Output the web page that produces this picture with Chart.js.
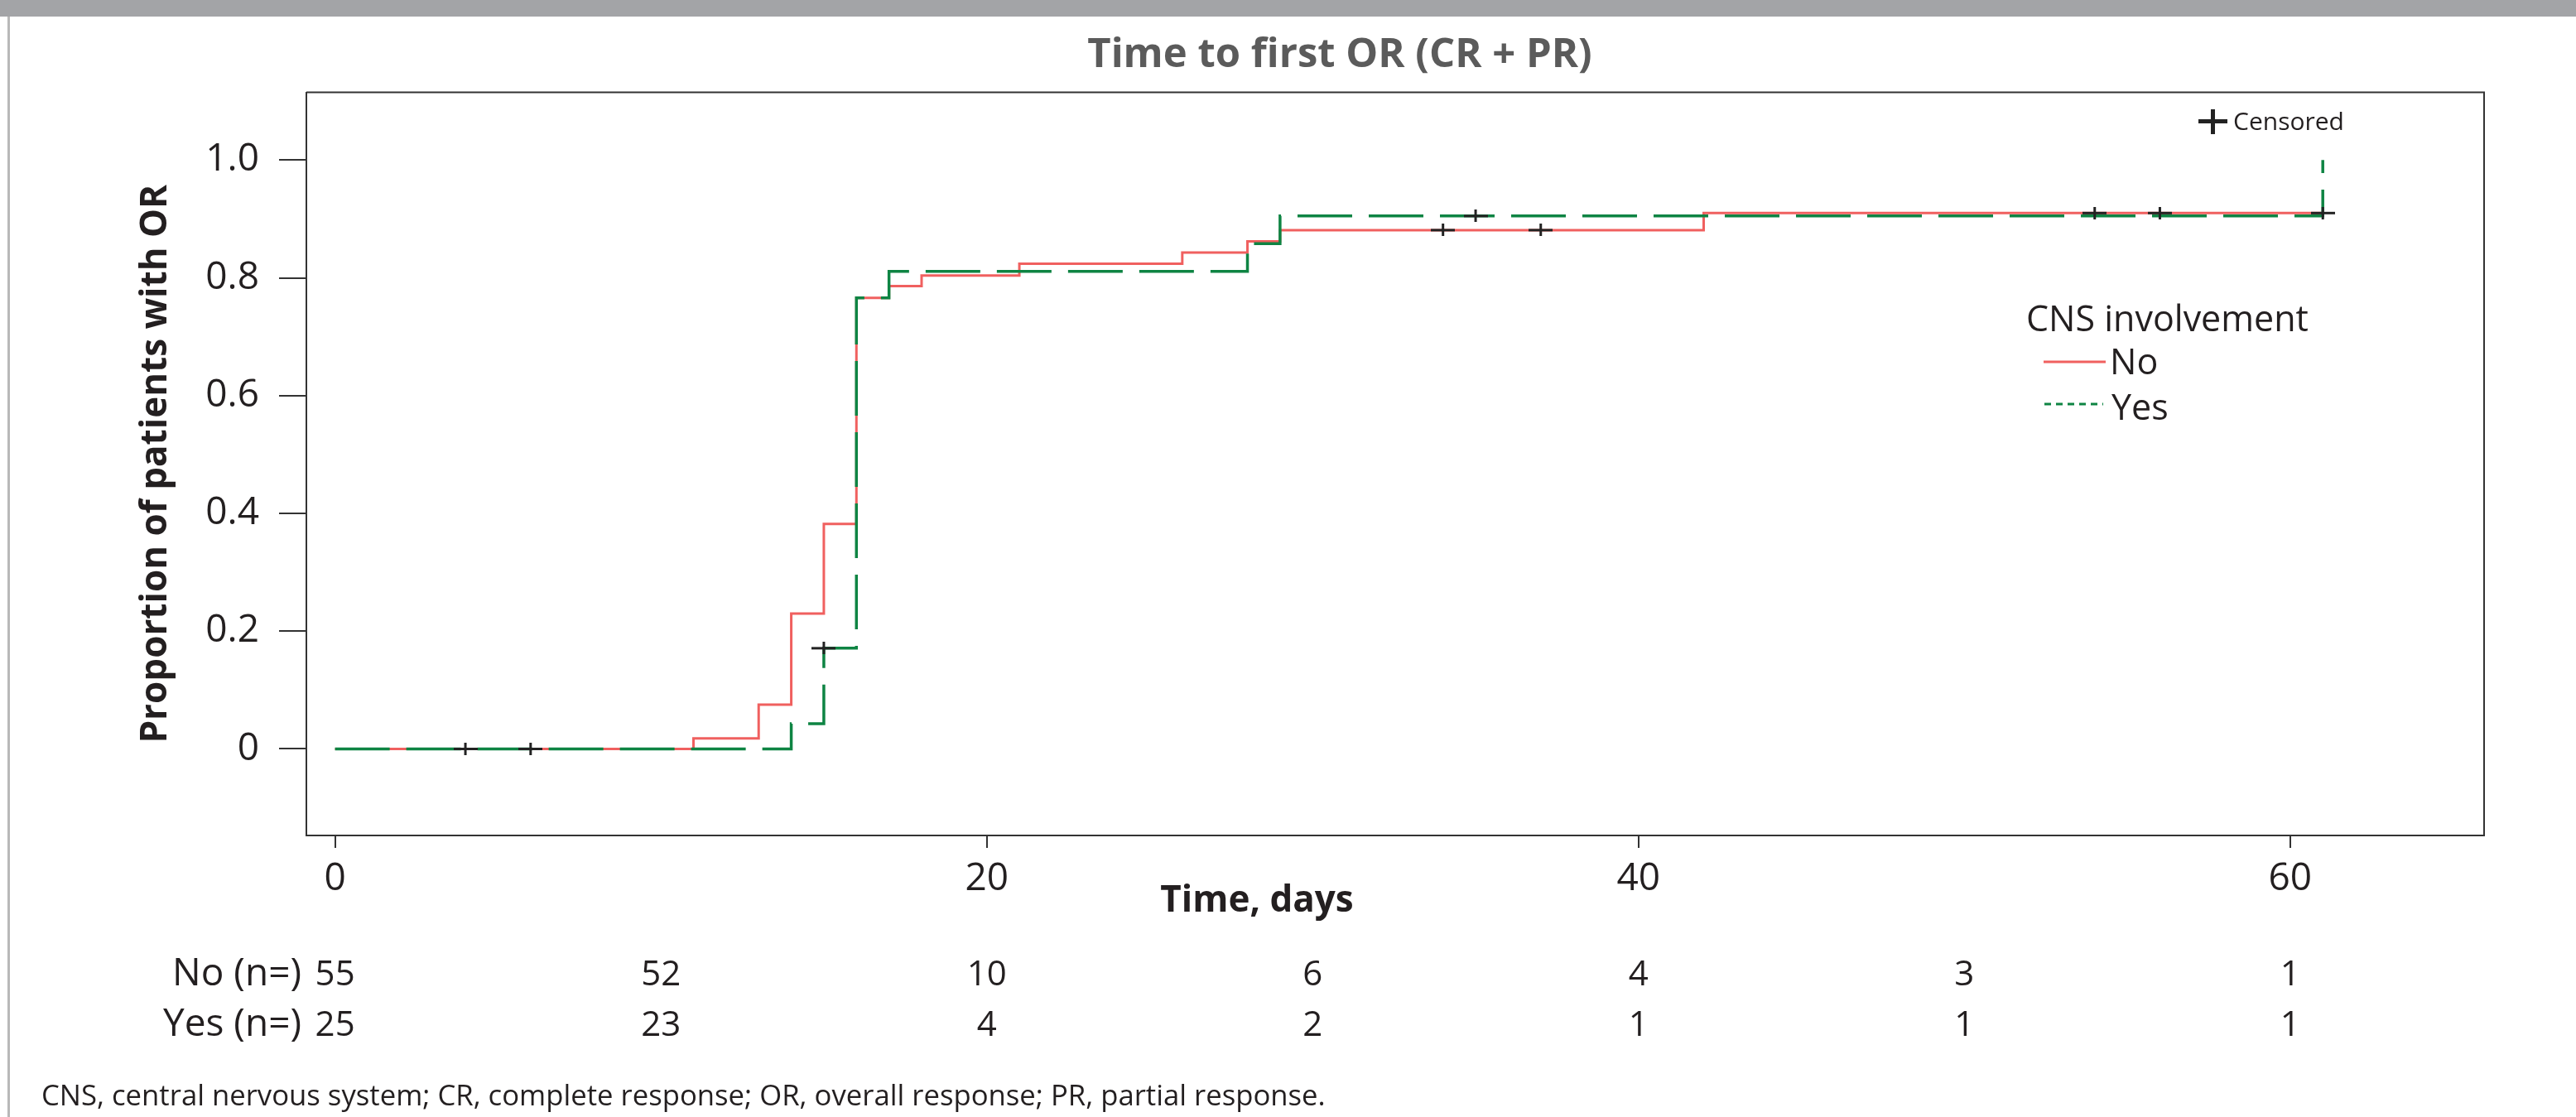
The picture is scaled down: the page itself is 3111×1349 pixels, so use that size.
<!DOCTYPE html>
<html>
<head>
<meta charset="utf-8">
<script src="https://cdn.jsdelivr.net/npm/chart.js@4/dist/chart.umd.min.js"></script>
<style>
html,body{margin:0;padding:0;background:#fff;}
#wrap{position:relative;width:3111px;height:1349px;}
canvas{display:block;}
</style>
</head>
<body>
<div id="wrap"><canvas id="c" width="3111" height="1349"></canvas></div>
<script>
// ---- data ----
const noTimes   = [0, 11, 13, 14, 15, 16, 17, 18, 21, 26, 28, 29, 42, 61];
const noValues  = [0, 0.018, 0.075, 0.230, 0.382, 0.766, 0.786, 0.804, 0.824, 0.843, 0.862, 0.881, 0.910, 0.910];
const yesTimes  = [0, 14, 15, 16, 17, 28, 29, 61];
const yesValues = [0, 0.043, 0.171, 0.766, 0.811, 0.858, 0.905, 1.0];
const noCensorTimes   = [4, 6, 34, 37, 54, 56, 61];
const noCensorValues  = [0, 0, 0.881, 0.881, 0.910, 0.910, 0.910];
const yesCensorTimes  = [15, 35];
const yesCensorValues = [0.171, 0.905];
const xTicks = [0, 20, 40, 60];
const yTicks = [0, 0.2, 0.4, 0.6, 0.8, 1.0];
const riskTimes = [0, 10, 20, 30, 40, 50, 60];
const riskNo  = [55, 52, 10, 6, 4, 3, 1];
const riskYes = [25, 23, 4, 2, 1, 1, 1];
const riskLabels = ['No (n=)', 'Yes (n=)'];
const seriesNames = ['No', 'Yes'];
const chartTitle = 'Time to first OR (CR + PR)';
const xTitle = 'Time, days';
const yTitle = 'Proportion of patients with OR';
const legendTitle = 'CNS involvement';
const censoredLabel = 'Censored';
const footnote = 'CNS, central nervous system; CR, complete response; OR, overall response; PR, partial response.';

const FONT = "'Open Sans', 'Noto Sans', sans-serif";
const RED = '#f0605f';
const GREEN = '#0e8443';
const INK = '#231f20';

function pts(xs, ys){ return xs.map((x,i)=>({x:x, y:ys[i]})); }

function makePlus(w,h,hw,vw,color){
  const c=document.createElement('canvas'); c.width=w; c.height=h;
  const g=c.getContext('2d'); g.fillStyle=color;
  g.fillRect(0,(h-hw)/2,w,hw); g.fillRect((w-vw)/2,0,vw,h);
  return c;
}
const plusImg = makePlus(29,15,3,3,'#222');

const extras = {
  id:'extras',
  beforeDraw(chart){
    const ctx=chart.ctx;
    ctx.save();
    ctx.fillStyle='#fff'; ctx.fillRect(0,0,chart.width,chart.height);
    ctx.fillStyle='#a3a4a7'; ctx.fillRect(0,0,chart.width,20);
    ctx.fillStyle='#b8b8b8'; ctx.fillRect(9,20,3,chart.height-20);
    ctx.restore();
  },
  afterDraw(chart){
    const ctx=chart.ctx, ca=chart.chartArea, xs=chart.scales.x;
    ctx.save();
    // frame top/right
    ctx.strokeStyle='#333'; ctx.lineWidth=2;
    ctx.beginPath();
    ctx.moveTo(ca.left, ca.top); ctx.lineTo(ca.right, ca.top); ctx.lineTo(ca.right, ca.bottom);
    ctx.stroke();
    ctx.fillStyle=INK;
    ctx.textBaseline='alphabetic';
    // x axis title
    ctx.font='bold 44px '+FONT; ctx.textAlign='center';
    ctx.fillText(xTitle, 1518, 1101);
    // at risk table
    ctx.font='46px '+FONT;
    ctx.textAlign='right';
    ctx.fillText(riskLabels[0], 364, 1190);
    ctx.fillText(riskLabels[1], 364, 1251);
    ctx.font='42px '+FONT;
    ctx.textAlign='center';
    riskTimes.forEach((t,i)=>{
      const px=xs.getPixelForValue(t);
      ctx.fillText(String(riskNo[i]), px, 1190);
      ctx.fillText(String(riskYes[i]), px, 1251);
    });
    // footnote
    ctx.font='34.7px '+FONT; ctx.textAlign='left';
    ctx.fillText(footnote, 50, 1335);
    // censored legend
    ctx.fillStyle='#222';
    ctx.fillRect(2655, 144, 35, 5);
    ctx.fillRect(2670, 132, 5, 30);
    ctx.fillStyle=INK;
    ctx.font='30px '+FONT; ctx.textAlign='left';
    ctx.fillText(censoredLabel, 2697, 157);
    // CNS legend
    ctx.font='43px '+FONT;
    ctx.fillText(legendTitle, 2447, 400);
    ctx.fillText(seriesNames[0], 2548, 452);
    ctx.fillText(seriesNames[1], 2550, 507);
    ctx.lineWidth=3;
    ctx.strokeStyle=RED; ctx.setLineDash([]);
    ctx.beginPath(); ctx.moveTo(2468,437); ctx.lineTo(2543,437); ctx.stroke();
    ctx.strokeStyle=GREEN; ctx.setLineDash([8,6]);
    ctx.beginPath(); ctx.moveTo(2469,488); ctx.lineTo(2540,488); ctx.stroke();
    ctx.restore();
  }
};

new Chart(document.getElementById('c'), {
  type:'line',
  data:{
    datasets:[
      { label:'No censored', type:'scatter', data:pts(noCensorTimes,noCensorValues), pointStyle:plusImg, pointRadius:8, showLine:false, order:1 },
      { label:'Yes censored', type:'scatter', data:pts(yesCensorTimes,yesCensorValues), pointStyle:plusImg, pointRadius:8, showLine:false, order:1 },
      { label:seriesNames[1], data:pts(yesTimes,yesValues), stepped:true, borderColor:GREEN, borderWidth:3.5, borderDash:[66,20], pointRadius:0, fill:false, order:2 },
      { label:seriesNames[0], data:pts(noTimes,noValues), stepped:true, borderColor:RED, borderWidth:3, pointRadius:0, fill:false, order:3 }
    ]
  },
  options:{
    responsive:false,
    devicePixelRatio:1,
    animation:false,
    events:[],
    layout:{ padding:{ top:20, right:111, bottom:0, left:236 } },
    plugins:{
      legend:{ display:false },
      tooltip:{ enabled:false },
      title:{
        display:true, text:chartTitle, color:'#5b5b5b',
        font:{ family:FONT, size:49, weight:'bold', lineHeight:1.2 },
        padding:{ top:18, bottom:14.7 }
      }
    },
    scales:{
      x:{
        type:'linear', min:-0.88, max:65.95,
        afterBuildTicks(s){ s.ticks = xTicks.map(v=>({value:v})); },
        afterFit(s){ s.height = 340; },
        grid:{ display:true, drawOnChartArea:false, drawTicks:true, tickLength:15, color:'#333', lineWidth:2 },
        border:{ display:true, color:'#333', width:2 },
        ticks:{ color:INK, font:{ family:FONT, size:46 }, padding:10, maxRotation:0, autoSkip:false },
        title:{ display:false }
      },
      y:{
        type:'linear', min:-0.147, max:1.115,
        afterBuildTicks(s){ s.ticks = yTicks.map(v=>({value:v})); },
        afterFit(s){ s.width = 134; },
        grid:{ display:true, drawOnChartArea:false, drawTicks:true, tickLength:33, color:'#333', lineWidth:2 },
        border:{ display:true, color:'#333', width:2 },
        ticks:{ color:INK, font:{ family:FONT, size:46 }, padding:24, autoSkip:false,
          callback:(v)=> v===0 ? '0' : Number(v).toFixed(1) },
        title:{ display:true, text:yTitle, color:INK,
          font:{ family:FONT, size:44, weight:'bold', lineHeight:1.2 },
          padding:{ top:-74.4, bottom:0 } }
      }
    }
  },
  plugins:[extras]
});
</script>
</body>
</html>
